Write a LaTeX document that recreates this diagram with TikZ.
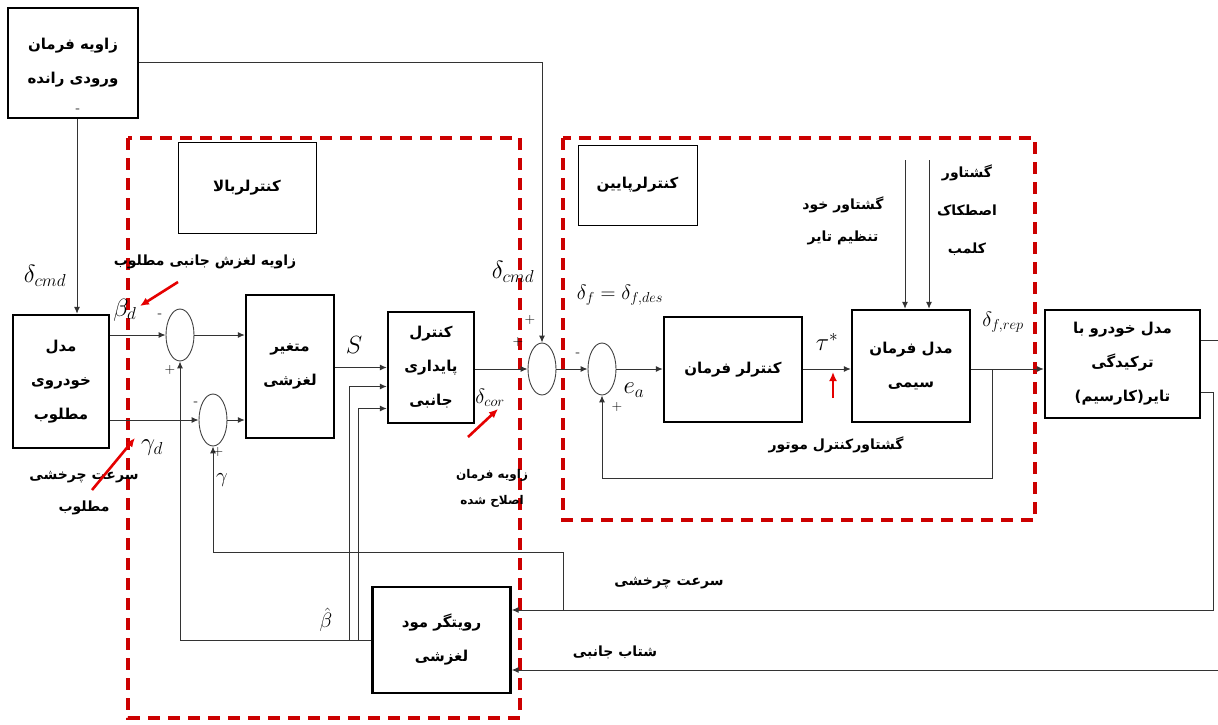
\documentclass[tikz,border=0pt]{standalone}
\usepackage{fontspec}
\usepackage{amsmath}
\usetikzlibrary{shapes.geometric,arrows.meta,calc}
\newfontfamily\farsi[Script=Arabic]{DejaVu Sans}
\TeXXeTstate=1
\newcommand{\fa}[1]{\beginR #1\endR}
\tikzset{
  block/.style={draw,line width=2.4pt,align=center,inner sep=2pt,
    font=\farsi\bfseries\fontsize{15}{34}\selectfont},
  captionbox/.style={draw,line width=0.8pt,align=center,
    font=\farsi\bfseries\fontsize{15}{34}\selectfont},
  junction/.style={ellipse,draw=black!75,line width=0.9pt,
    minimum width=28pt,minimum height=52pt,inner sep=0pt},
  flow/.style={-{Latex[length=7pt,width=6pt]},line width=1pt,draw=black!80},
  wire/.style={line width=1pt,draw=black!80}
}
\begin{document}
\begin{tikzpicture}[x=1pt,y=-1pt,
  sign/.style={font=\fontsize{14}{14}\selectfont,inner sep=0pt},
  symb/.style={font=\fontsize{24}{24}\selectfont,inner sep=0pt},
  note/.style={font=\farsi\bfseries\fontsize{14}{32}\selectfont,align=center,inner sep=0pt},
  pointer/.style={-{Latex[length=9pt,width=8pt]},line width=2.6pt,draw=red!90!black},
  redbox/.style={draw=red!80!black,line width=4.5pt,dash pattern=on 12pt off 8pt}
]
  \useasboundingbox (0,0) rectangle (1218,725);
  \draw[redbox] (128,138) rectangle (520,718);
  \draw[redbox] (563,138) rectangle (1035,520);

  \node[block,minimum width=130pt,minimum height=110pt] (driver) at (73,63) {\fa{زاویه فرمان}\\\fa{ورودی رانده}};
  \node[sign] (driverdash) at (78,111) {-};
  \node[captionbox,minimum width=138pt,minimum height=91pt] (upper) at (247,187.5) {\fa{کنترلربالا}};
  \node[captionbox,minimum width=119pt,minimum height=80pt] (lower) at (637.5,185) {\fa{کنترلرپایین}};
  \node[block,minimum width=96pt,minimum height=133pt] (desired) at (61,381.5) {\fa{مدل}\\\fa{خودروی}\\\fa{مطلوب}};
  \node[junction] (sum1) at (180,335) {};
  \node[junction] (sum2) at (213,420) {};
  \node[block,minimum width=88pt,minimum height=143pt] (slip) at (290,366.5) {\fa{متغیر}\\\fa{لغزشی}};
  \node[block,minimum width=86pt,minimum height=111pt] (stab) at (431,367.5) {\fa{کنترل}\\\fa{پایداری}\\\fa{جانبی}};
  \node[junction] (sum3) at (542,369) {};
  \node[junction] (sum4) at (602,369) {};
  \node[block,minimum width=138pt,minimum height=105pt] (steerctl) at (733,369.5) {\fa{کنترلر فرمان}};
  \node[block,minimum width=118pt,minimum height=112pt] (sbw) at (911,366) {\fa{مدل فرمان}\\\fa{سیمی}};
  \node[block,minimum width=155pt,minimum height=108pt] (car) at (1122.5,364) {\fa{مدل خودرو با}\\\fa{ترکیدگی}\\\fa{تایر(کارسیم)}};
  \node[block,minimum width=138pt,minimum height=106pt] (observer) at (441.5,640) {\fa{رویتگر مود}\\\fa{لغزشی}};

  \draw[flow] (driver.east) -| (sum3.north);
  \draw[flow] ([xshift=4pt]driver.south) -- ([xshift=16pt]desired.north);
  \draw[flow] (desired.east |- sum1.west) -- (sum1.west);
  \draw[flow] (desired.east |- sum2.west) -- (sum2.west);
  \draw[flow] (sum1.east) -- (sum1.east -| slip.west);
  \draw[flow] (sum2.east) -- (sum2.east -| slip.west);
  \draw[flow] (slip.east |- stab.west) -- (stab.west);
  \draw[flow] (stab.east |- sum3.west) -- (sum3.west);
  \draw[flow] (sum3.east) -- (sum4.west);
  \draw[flow] (sum4.east) -- (sum4.east -| steerctl.west);
  \draw[flow] (steerctl.east |- sum4.east) -- (sum4.east -| sbw.west);
  \coordinate (reptap) at (992,369);
  \draw[wire] (sbw.east |- reptap) -- (reptap);
  \draw[flow] (reptap) -- (reptap -| car.west);
  \draw[flow] (reptap) -- ++(0,109) -| (sum4.south);
  \coordinate (selfalign) at (905,160);
  \coordinate (coulomb) at (929,160);
  \draw[flow] (selfalign) -- (selfalign |- sbw.north);
  \draw[flow] (coulomb) -- (coulomb |- sbw.north);
  \draw[flow] ([yshift=24pt]car.east) -- ++(30,0) |- ([yshift=-30pt]observer.east);
  \draw[flow] ([yshift=-28pt]car.east) -- ++(12,0) |- ([yshift=30pt]observer.east);
  \coordinate (yawtap) at (563,610);
  \coordinate (yawbend) at (563,552);
  \draw[flow] (yawtap) -- (yawbend) -| (sum2.south);
  \draw[flow] (observer.west) -| (sum1.south);
  \coordinate (obsb1) at (349,640);
  \coordinate (obsb2) at (358,640);
  \draw[flow] (obsb1) |- ([yshift=-19pt]stab.west);
  \draw[flow] (obsb2) |- ([yshift=-41pt]stab.west);

  \node[symb] (dcmd1) at (45,276) {$\delta_{cmd}$};
  \node[symb] (betad) at (125,310) {$\beta_d$};
  \node[symb] (gammad) at (152,448) {$\gamma_d$};
  \node[symb] (slipvar) at (354,345) {$S$};
  \node[symb,font=\fontsize{22}{22}\selectfont] (gammafb) at (222,480) {$\gamma$};
  \node[symb,font=\fontsize{22}{22}\selectfont] (betahat) at (326,620) {$\hat{\beta}$};
  \node[symb] (dcmd2) at (513,272) {$\delta_{cmd}$};
  \node[symb,font=\fontsize{22}{22}\selectfont] (dcor) at (490,398) {$\delta_{cor}$};
  \node[symb,font=\fontsize{21}{21}\selectfont] (dfdes) at (620,295) {$\delta_f=\delta_{f,des}$};
  \node[symb] (ea) at (634,390) {$e_a$};
  \node[symb] (tau) at (827,342) {$\tau^{*}$};
  \node[symb,font=\fontsize{20}{20}\selectfont] (dfrep) at (1003,322) {$\delta_{f,rep}$};

  \node[sign] at (160,316) {-};
  \node[sign] at (170,370) {+};
  \node[sign] at (196,404) {-};
  \node[sign] at (218,452) {+};
  \node[sign] at (530,320) {+};
  \node[sign] at (518,342) {+};
  \node[sign] at (578,355) {-};
  \node[sign] at (617,407) {+};

  \node[note] (betanote) at (205,262) {\fa{زاویه لغزش جانبی مطلوب}};
  \node[note] (gammanote) at (84,493) {\fa{سرعت چرخشی}\\\fa{مطلوب}};
  \node[note,font=\farsi\bfseries\fontsize{12}{26}\selectfont] (cornote) at (492,488) {\fa{زاویه فرمان}\\\fa{اصلاح شده}};
  \node[note] (selfnote) at (843,221) {\fa{گشتاور خود}\\\fa{تنظیم تایر}};
  \node[note,font=\farsi\bfseries\fontsize{14}{38}\selectfont] (coulnote) at (967,210) {\fa{گشتاور}\\\fa{اصطکاک}\\\fa{کلمب}};
  \node[note] (motornote) at (836,445) {\fa{گشتاورکنترل موتور}};
  \node[note] (yawnote) at (669,583) {\fa{سرعت چرخشی}};
  \node[note] (latnote) at (615,652) {\fa{شتاب جانبی}};

  \coordinate (betatail) at (178,282);
  \coordinate (betahead) at (140,306);
  \coordinate (gammatail) at (92,490);
  \coordinate (gammahead) at (135,438);
  \coordinate (cortail) at (468,437);
  \coordinate (corhead) at (498,409);
  \coordinate (motortail) at (833,398);
  \coordinate (motorhead) at (833,372);
  \draw[pointer] (betatail) -- (betahead);
  \draw[pointer] (gammatail) -- (gammahead);
  \draw[pointer] (cortail) -- (corhead);
  \draw[pointer] (motortail) -- (motorhead);
\end{tikzpicture}
\end{document}
